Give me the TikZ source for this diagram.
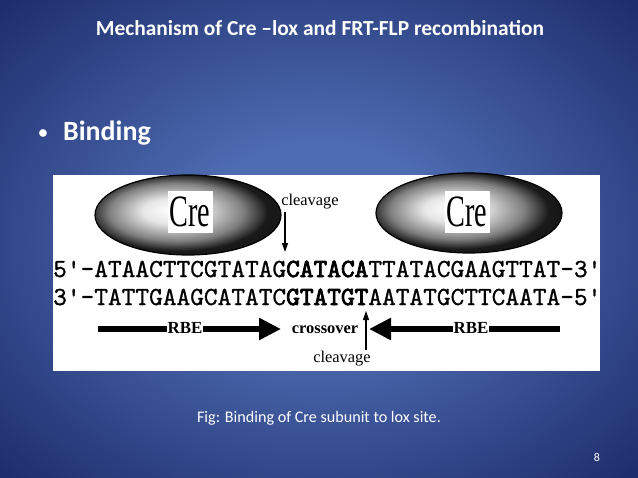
\documentclass[tikz,border=0pt]{standalone}
\usepackage{fontspec}
\usepackage{graphicx}
\setmainfont{Carlito}
\newfontfamily\figserif{Liberation Serif}
\newfontfamily\dnafont{lmmono10-regular.otf}[FakeBold=0.9, BoldFont=lmmono10-regular.otf, BoldFeatures={FakeBold=3.2}]
\usetikzlibrary{positioning, arrows.meta, calc, shapes.geometric}
\definecolor{slideblueL}{RGB}{78, 108, 178}
\definecolor{slideblueD}{RGB}{24, 38, 100}
\pgfdeclareradialshading{slideglow}{\pgfpoint{0bp}{0bp}}{color(0bp)=(slideblueL); color(10bp)=(slideblueL); color(38bp)=(slideblueD); color(50bp)=(slideblueD)}
\pgfdeclareradialshading{creglow}{\pgfpoint{-5bp}{3bp}}{color(0bp)=(white); color(8bp)=(white!90!black); color(18bp)=(black!50); color(24bp)=(black!90); color(50bp)=(black)}
\tikzset{
  slidetxt/.style={text=white, inner sep=0pt, font=#1},
  creblob/.style={ellipse, draw=black, line width=1.2bp, shading=creglow,
                  minimum width=186bp, minimum height=80bp},
  crelbl/.style={fill=white, inner sep=0pt, minimum width=45bp, minimum height=41bp,
                 font=\figserif\fontsize{45}{45}\selectfont},
  dna/.style={inner sep=0pt, anchor=base west, font=\dnafont\fontsize{26.2}{26.2}\selectfont},
  figlbl/.style={inner sep=0.5bp, font=\figserif\fontsize{16.5}{16.5}\selectfont},
  rbearr/.style={line width=6bp, -{Triangle[length=22bp, width=21bp]}},
  cutarr/.style={line width=1.2bp, -{Triangle[length=9bp, width=6bp]}},
}
\begin{document}
\begin{tikzpicture}[x=1bp, y=-1bp]
  \useasboundingbox (0,0) rectangle (638,478);
  % Slide background
  \shade[shading=slideglow] (0,0) rectangle (638,478);
  \node[slidetxt=\bfseries\fontsize{21.5}{21.5}\selectfont] (title) at (320,28)
    {Mechanism of Cre –lox and FRT-FLP recombination};
  \node[slidetxt=\bfseries\fontsize{18}{18}\selectfont] (bullet) at (43,134) {•};
  \node[slidetxt=\bfseries\fontsize{28}{28}\selectfont, anchor=base west] (binding) at (63,141)
    {Binding};
  % Figure panel
  \fill[white] (53,175) rectangle (600,371);
  \node[creblob] (creL) at (188,215) {};
  \node[creblob] (creR) at (469,213) {};
  \node[crelbl] (creLlbl) at (190,212) {\scalebox{0.63}[1]{Cre}};
  \node[crelbl] (creRlbl) at (467,212) {\scalebox{0.63}[1]{Cre}};
  % Sequence
  \node[dna] (top) at (53,277) {5'-ATAACTTCGTATAG\textbf{CATACA}TTATACGAAGTTAT-3'};
  \node[dna] (bot) at (53,305) {3'-TATTGAAGCATATC\textbf{GTATGT}AATATGCTTCAATA-5'};
  % Cleavage sites
  \node[figlbl] (cltop) at (310,202) {cleavage};
  \coordinate (cuttopA) at (285,212);
  \coordinate (cuttopB) at (285,252);
  \draw[cutarr] (cuttopA) -- (cuttopB);
  \node[figlbl, font=\figserif\bfseries\fontsize{16.5}{16.5}\selectfont] (cross) at (325,330) {crossover};
  \node[figlbl] (clbot) at (342,359) {cleavage};
  \coordinate (cutbotA) at (366,350);
  \coordinate (cutbotB) at (366,311);
  \draw[cutarr] (cutbotA) -- (cutbotB);
  % Recombinase binding elements
  \coordinate (rbeLa) at (98,329);
  \coordinate (rbeLb) at (281,329);
  \coordinate (rbeRa) at (560,329);
  \coordinate (rbeRb) at (369,329);
  \draw[rbearr] (rbeLa) -- (rbeLb);
  \draw[rbearr] (rbeRa) -- (rbeRb);
  \node[figlbl, fill=white, font=\figserif\bfseries\fontsize{17}{17}\selectfont] (rbeL) at (185,328) {RBE};
  \node[figlbl, fill=white, font=\figserif\bfseries\fontsize{17}{17}\selectfont] (rbeR) at (471,328) {RBE};
  % Caption and page number
  \node[slidetxt=\fontsize{16.2}{16.2}\selectfont] (caption) at (319,418)
    {Fig: Binding of Cre subunit to lox site.};
  \node[slidetxt=\fontsize{12}{12}\selectfont] (pageno) at (597,457) {8};
\end{tikzpicture}
\end{document}
